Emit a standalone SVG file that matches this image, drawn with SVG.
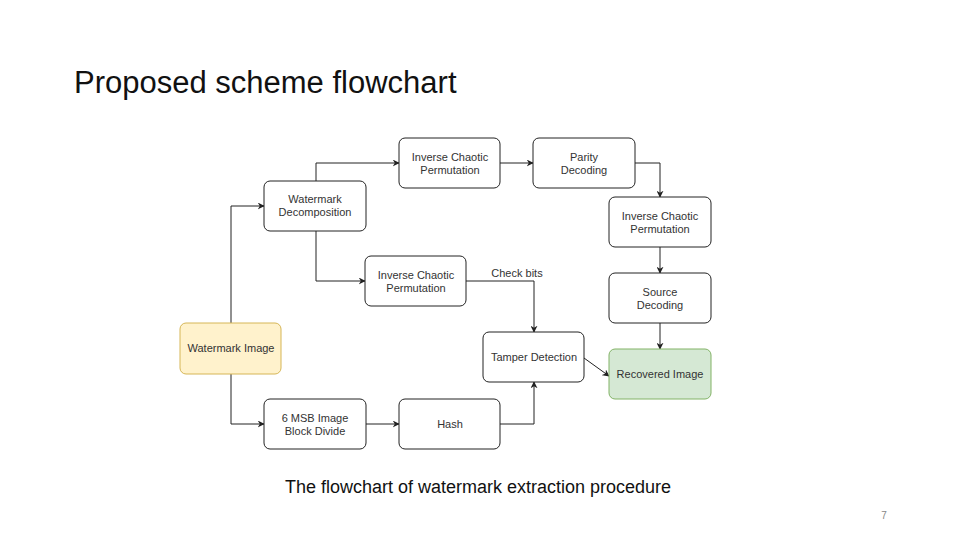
<svg xmlns="http://www.w3.org/2000/svg" width="960" height="540" viewBox="0 0 960 540">
<style>
.n rect{fill:#fff;stroke:#222;stroke-width:1}
.n text{font-family:"Liberation Sans",Arial,sans-serif;font-size:11px;fill:#333;text-anchor:middle}
.c path{fill:none;stroke:#222;stroke-width:1;marker-end:url(#a)}
</style>
<defs><marker id="a" viewBox="0 0 10 10" refX="9" refY="5" markerWidth="7" markerHeight="7" orient="auto"><path d="M0,0L10,5L0,10L3,5z" fill="#222"/></marker></defs>
<rect width="960" height="540" fill="#fff"/>
<text x="74" y="93" font-family="Liberation Sans,Arial,sans-serif" font-size="31" fill="#111">Proposed scheme flowchart</text>
<g class="c">
<path d="M231,323V206H264"/>
<path d="M231,374V424H264"/>
<path d="M316,181V163H399"/>
<path d="M500,163H533"/>
<path d="M635,163H660V197"/>
<path d="M660,247V273"/>
<path d="M660,323V349"/>
<path d="M316,231V281H365"/>
<path d="M466,281H534V332"/>
<path d="M366,424H399"/>
<path d="M500,424H534V382"/>
<path d="M584,358L609,376"/>
</g>
<text x="517" y="277" font-family="Liberation Sans,Arial,sans-serif" font-size="11" fill="#333" text-anchor="middle">Check bits</text>
<g id="wi" class="n"><rect x="180" y="323" width="101" height="51" rx="6" style="fill:#fff2cc;stroke:#d6b656"/><text x="231" y="352">Watermark Image</text></g>
<g id="wd" class="n"><rect x="264" y="181" width="102" height="50" rx="6"/><text x="315" y="203">Watermark</text><text x="315" y="216">Decomposition</text></g>
<g id="icp1" class="n"><rect x="399" y="138" width="101" height="50" rx="6"/><text x="450" y="161">Inverse Chaotic</text><text x="450" y="174">Permutation</text></g>
<g id="pd" class="n"><rect x="533" y="138" width="102" height="50" rx="6"/><text x="584" y="161">Parity</text><text x="584" y="174">Decoding</text></g>
<g id="icp2" class="n"><rect x="609" y="197" width="102" height="50" rx="6"/><text x="660" y="220">Inverse Chaotic</text><text x="660" y="233">Permutation</text></g>
<g id="sd" class="n"><rect x="609" y="273" width="102" height="50" rx="6"/><text x="660" y="296">Source</text><text x="660" y="309">Decoding</text></g>
<g id="ri" class="n"><rect x="609" y="349" width="102" height="50" rx="6" style="fill:#d5e8d4;stroke:#82b366"/><text x="660" y="378">Recovered Image</text></g>
<g id="icp3" class="n"><rect x="365" y="256" width="101" height="50" rx="6"/><text x="416" y="279">Inverse Chaotic</text><text x="416" y="292">Permutation</text></g>
<g id="td" class="n"><rect x="483" y="332" width="101" height="50" rx="6"/><text x="534" y="361">Tamper Detection</text></g>
<g id="msb" class="n"><rect x="264" y="399" width="102" height="50" rx="6"/><text x="315" y="422">6 MSB Image</text><text x="315" y="435">Block Divide</text></g>
<g id="hash" class="n"><rect x="399" y="399" width="101" height="50" rx="6"/><text x="450" y="428">Hash</text></g>
<text x="478" y="493" font-family="Liberation Sans,Arial,sans-serif" font-size="18" fill="#111" text-anchor="middle">The flowchart of watermark extraction procedure</text>
<text x="884" y="519" font-family="Liberation Sans,Arial,sans-serif" font-size="10" fill="#888" text-anchor="middle">7</text>
</svg>
